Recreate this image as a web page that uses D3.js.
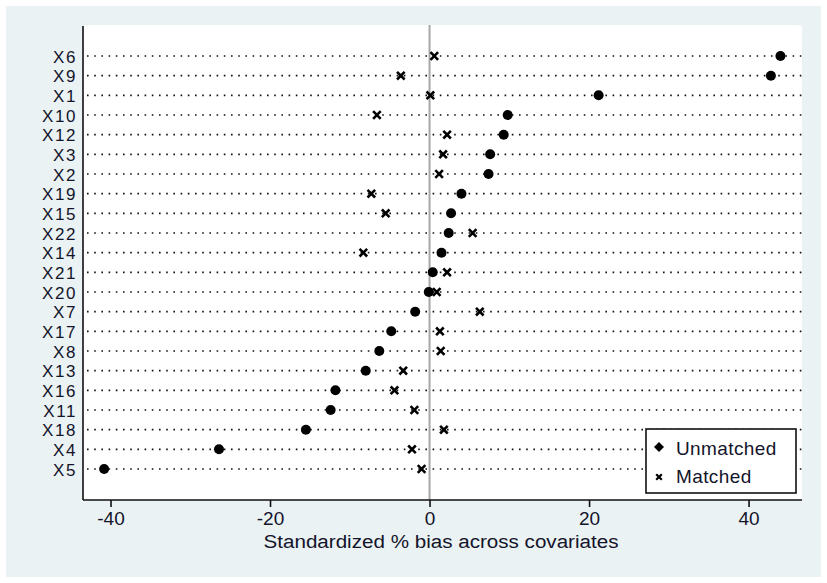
<!DOCTYPE html>
<html>
<head>
<meta charset="utf-8">
<script src="https://cdn.jsdelivr.net/npm/d3@7"></script>
<style>
  body { margin: 0; background: #fff; }
  text { font-family: "Liberation Sans", Arial, sans-serif; fill: #14142a; }
</style>
</head>
<body>
<div id="chart"></div>
<script>
// covariates, sorted as in the plot (top to bottom)
const covariates = ["X6","X9","X1","X10","X12","X3","X2","X19","X15","X22","X14",
                    "X21","X20","X7","X17","X8","X13","X16","X11","X18","X4","X5"];
const unmatched = [44.0,42.8,21.2,9.8,9.3,7.6,7.4,4.0,2.7,2.4,1.5,
                   0.4,-0.1,-1.8,-4.8,-6.3,-8.0,-11.8,-12.4,-15.5,-26.4,-40.8];
const matched   = [0.6,-3.6,0.1,-6.6,2.2,1.7,1.2,-7.3,-5.5,5.4,-8.3,
                   2.2,0.9,6.3,1.3,1.4,-3.3,-4.4,-1.9,1.8,-2.2,-1.0];
const xTicks = [-40,-20,0,20,40];
const seriesNames = ["Unmatched","Matched"];

const W = 827, H = 583;
const plot = {l: 83, r: 802, t: 25, b: 500};

const svg = d3.select("#chart").append("svg")
    .attr("width", W).attr("height", H);

// outer background
svg.append("rect").attr("x", 6).attr("y", 6).attr("width", 815).attr("height", 571)
    .attr("fill", "#eaf2f4");
// plot region
svg.append("rect").attr("x", plot.l).attr("y", plot.t)
    .attr("width", plot.r - plot.l).attr("height", plot.b - plot.t)
    .attr("rx", 3).attr("fill", "#fff");

const x = d3.scaleLinear().domain([-43.45, 46.7]).range([plot.l, plot.r]);
const y = d3.scalePoint().domain(covariates).range([56, 469]);

// dotted row lines
svg.append("g").selectAll("line").data(covariates).enter().append("line")
    .attr("x1", plot.l + 4).attr("x2", plot.r)
    .attr("y1", d => y(d)).attr("y2", d => y(d))
    .attr("stroke", "#111").attr("stroke-width", 1.6)
    .attr("stroke-dasharray", "1.6,5.6");

// zero reference line
svg.append("line").attr("x1", x(0)).attr("x2", x(0))
    .attr("y1", plot.t).attr("y2", plot.b)
    .attr("stroke", "#a6a6a6").attr("stroke-width", 2);

// x axis (plain hyphen for negatives, as in the original)
const xAxis = d3.axisBottom(x).tickValues(xTicks).tickSize(7).tickPadding(5)
    .tickFormat(d => String(d));
const gx = svg.append("g").attr("transform", "translate(0," + plot.b + ")").call(xAxis);
gx.select(".domain").attr("d", "M" + plot.l + ",0H" + plot.r)
    .attr("stroke", "#111").attr("stroke-width", 1.6);
gx.selectAll(".tick line").attr("stroke", "#111").attr("stroke-width", 1.6);
gx.selectAll(".tick text").attr("font-size", 19).attr("fill", "#14142a")
    .attr("font-family", "Liberation Sans, Arial, sans-serif");

// y axis
const yAxis = d3.axisLeft(y).tickSize(0).tickPadding(6);
const gy = svg.append("g").attr("transform", "translate(" + plot.l + ",0)").call(yAxis);
gy.select(".domain").attr("d", "M0," + (plot.t + 1) + "V" + plot.b)
    .attr("stroke", "#111").attr("stroke-width", 1.6);
gy.selectAll(".tick text").attr("font-size", 17).attr("fill", "#14142a")
    .attr("letter-spacing", 1.6).attr("dy", "0.36em")
    .attr("font-family", "Liberation Sans, Arial, sans-serif");

// axis title
svg.append("text").attr("x", 441).attr("y", 548)
    .attr("text-anchor", "middle").attr("font-size", 18)
    .attr("textLength", 355).attr("lengthAdjust", "spacingAndGlyphs")
    .text("Standardized % bias across covariates");

// unmatched markers
svg.append("g").selectAll("circle").data(covariates).enter().append("circle")
    .attr("cx", (d, i) => x(unmatched[i])).attr("cy", d => y(d))
    .attr("r", 5).attr("fill", "#000");

// matched markers (x)
const cross = (cx, cy, s) => "M" + (cx - s) + "," + (cy - s) + "L" + (cx + s) + "," + (cy + s) +
    "M" + (cx - s) + "," + (cy + s) + "L" + (cx + s) + "," + (cy - s);
svg.append("g").selectAll("path").data(covariates).enter().append("path")
    .attr("d", (d, i) => cross(x(matched[i]), y(d), 3.8))
    .attr("stroke", "#000").attr("stroke-width", 2.6).attr("fill", "none");

// legend
const leg = svg.append("g");
leg.append("rect").attr("x", 646).attr("y", 429).attr("width", 150).attr("height", 64)
    .attr("fill", "#fff").attr("stroke", "#111").attr("stroke-width", 1.6);
leg.append("path").attr("d", "M659,442L664,447L659,452L654,447Z").attr("fill", "#000");
leg.append("path").attr("d", cross(659, 477, 2.8))
    .attr("stroke", "#000").attr("stroke-width", 2.2);
leg.selectAll("text").data(seriesNames).enter().append("text")
    .attr("x", 676).attr("y", (d, i) => 455 + i * 28)
    .attr("font-size", 19).attr("letter-spacing", 0.4)
    .text(d => d);
</script>
</body>
</html>
